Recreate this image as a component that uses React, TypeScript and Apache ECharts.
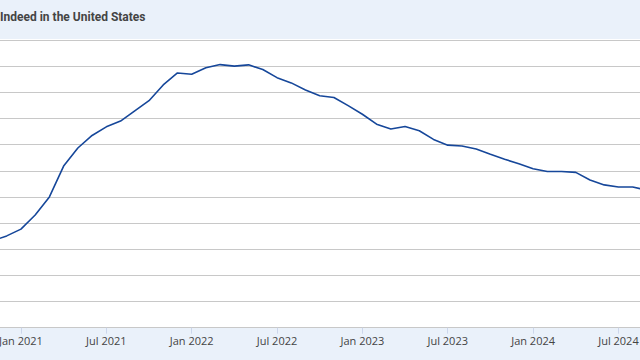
import React, { useEffect, useRef } from "react";
import * as echarts from "echarts";

const title = "Indeed in the United States";

const months = [
  "2020-11", "2020-12",
  "2021-01", "2021-02", "2021-03", "2021-04", "2021-05", "2021-06",
  "2021-07", "2021-08", "2021-09", "2021-10", "2021-11", "2021-12",
  "2022-01", "2022-02", "2022-03", "2022-04", "2022-05", "2022-06",
  "2022-07", "2022-08", "2022-09", "2022-10", "2022-11", "2022-12",
  "2023-01", "2023-02", "2023-03", "2023-04", "2023-05", "2023-06",
  "2023-07", "2023-08", "2023-09", "2023-10", "2023-11", "2023-12",
  "2024-01", "2024-02", "2024-03", "2024-04", "2024-05", "2024-06",
  "2024-07", "2024-08", "2024-09",
];

const values = [
  83.2, 85.1,
  87.7, 93.1, 100.0, 111.8, 118.7, 123.5,
  126.8, 129.0, 132.9, 136.8, 142.8, 147.4,
  146.9, 149.4, 150.6, 150.0, 150.5, 148.7,
  145.6, 143.6, 140.9, 138.7, 138.0, 134.9,
  131.6, 127.8, 126.0, 126.9, 125.3, 122.0,
  119.8, 119.5, 118.3, 116.3, 114.4, 112.7,
  110.8, 109.7, 109.7, 109.4, 106.5, 104.6,
  103.8, 103.8, 102.6,
];

const monthNames = ["Jan", "Feb", "Mar", "Apr", "May", "Jun", "Jul", "Aug", "Sep", "Oct", "Nov", "Dec"];
const labelMonths = ["01", "07"];

const yMin = 50;
const yMax = 160;
const yStep = 10;

const isLabelMonth = (v: string) => labelMonths.includes(v.slice(5, 7));
const fmt = (v: string) => `${monthNames[parseInt(v.slice(5, 7), 10) - 1]} ${v.slice(0, 4)}`;

export default function App() {
  const ref = useRef<HTMLDivElement>(null);
  useEffect(() => {
    if (!ref.current) return;
    const chart = echarts.init(ref.current, undefined, { renderer: "svg" });
    chart.setOption({
      animation: false,
      backgroundColor: "#ffffff",
      title: {
        text: title,
        left: 0,
        top: 11,
        padding: 0,
        textStyle: {
          fontFamily: "Roboto",
          fontSize: 12,
          fontWeight: "bold",
          color: "#444444",
        },
      },
      graphic: [
        {
          type: "rect",
          z: -10,
          silent: true,
          shape: { x: 0, y: 0, width: 640, height: 39 },
          style: { fill: "#eaf1fa" },
        },
        {
          type: "rect",
          z: -10,
          silent: true,
          shape: { x: 0, y: 328, width: 640, height: 32 },
          style: { fill: "#eaf1fa" },
        },
      ],
      grid: {
        left: -7.5,
        width: 654.4,
        top: 40,
        height: 287.7,
        containLabel: false,
        outerBoundsMode: "none",
      },
      xAxis: {
        type: "category",
        data: months,
        boundaryGap: false,
        axisLine: { show: true, lineStyle: { color: "#c8c8c8", width: 1 } },
        axisTick: {
          show: true,
          interval: (_i: number, v: string) => isLabelMonth(v),
          length: 6,
          lineStyle: { color: "#ccd6eb" },
        },
        axisLabel: {
          interval: (_i: number, v: string) => isLabelMonth(v),
          formatter: (v: string) => fmt(v),
          fontFamily: "Open Sans",
          fontSize: 11,
          color: "#444444",
          margin: 7,
        },
        splitLine: { show: false },
      },
      yAxis: {
        type: "value",
        min: yMin,
        max: yMax,
        interval: yStep,
        axisLabel: { show: false },
        axisLine: { show: false },
        axisTick: { show: false },
        splitLine: { show: true, lineStyle: { color: "#c8c8c8", width: 1.2 } },
      },
      series: [
        {
          type: "line",
          data: values,
          symbol: "none",
          lineStyle: { color: "#16479a", width: 1.6 },
        },
      ],
    });
    return () => chart.dispose();
  }, []);
  return (
    <div
      ref={ref}
      style={{ position: "fixed", left: 0, top: 0, width: 640, height: 360 }}
    />
  );
}
